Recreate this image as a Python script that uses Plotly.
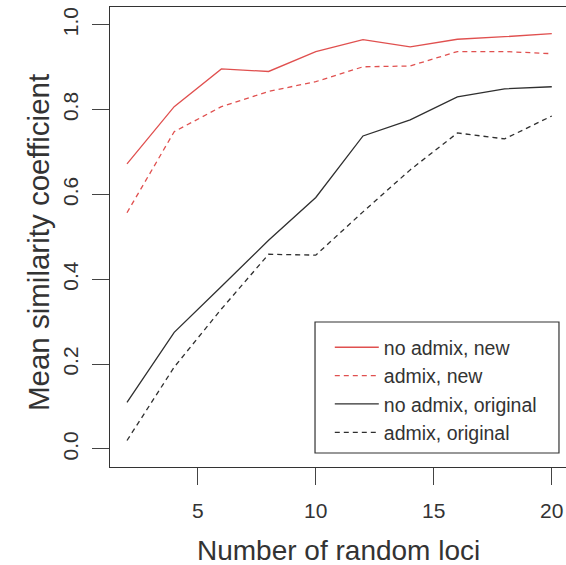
"""Mean similarity coefficient vs number of random loci."""

import plotly.graph_objects as go

# number of random loci
loci = [2, 4, 6, 8, 10, 12, 14, 16, 18, 20]

# mean similarity coefficient per series
no_admix_new = [0.672, 0.807, 0.896, 0.890, 0.937, 0.965, 0.948, 0.966, 0.972, 0.979]
admix_new = [0.557, 0.748, 0.807, 0.843, 0.866, 0.901, 0.903, 0.937, 0.937, 0.932]
no_admix_original = [0.110, 0.275, 0.383, 0.492, 0.593, 0.738, 0.776, 0.830, 0.849, 0.854]
admix_original = [0.020, 0.193, 0.330, 0.459, 0.457, 0.559, 0.658, 0.745, 0.731, 0.785]

series_names = [
    "no admix, new",
    "admix, new",
    "no admix, original",
    "admix, original",
]

x_ticks = [5, 10, 15, 20]
y_ticks = [0.0, 0.2, 0.4, 0.6, 0.8, 1.0]
y_tick_labels = ["0.0", "0.2", "0.4", "0.6", "0.8", "1.0"]

RED = "#e0504f"
BLACK = "#2f2f2f"
TEXT = "#333333"
FONT = "Liberation Sans, Arial, sans-serif"

styles = [
    (no_admix_new, RED, "solid"),
    (admix_new, RED, "5px,4px"),
    (no_admix_original, BLACK, "solid"),
    (admix_original, BLACK, "5px,4px"),
]

fig = go.Figure()

for name, (values, color, dash) in zip(series_names, styles):
    fig.add_trace(
        go.Scatter(
            x=loci,
            y=values,
            mode="lines",
            name=name,
            line=dict(color=color, width=1.3, dash=dash),
        )
    )

fig.update_layout(
    width=566,
    height=565,
    plot_bgcolor="white",
    paper_bgcolor="white",
    font=dict(family=FONT, color=TEXT),
    margin=dict(l=110, r=0, t=7, b=98, autoexpand=False),
    showlegend=True,
    legend=dict(
        x=0.482,
        y=0.302,
        xanchor="left",
        yanchor="top",
        bgcolor="rgba(0,0,0,0)",
        borderwidth=0,
        font=dict(size=19.5, color=TEXT),
        itemwidth=44,
        tracegroupgap=0,
    ),
)

# legend frame
fig.add_shape(
    type="rect",
    xref="paper",
    yref="paper",
    x0=0.4496,
    x1=0.9846,
    y0=0.0304,
    y1=0.3152,
    line=dict(color="#333333", width=1.2),
    fillcolor="rgba(0,0,0,0)",
    layer="above",
)

fig.update_xaxes(
    range=[1.28, 20.602],
    tickvals=x_ticks,
    ticktext=[str(t) for t in x_ticks],
    ticks="outside",
    ticklen=17,
    tickwidth=1.2,
    tickcolor="#444444",
    tickfont=dict(size=21, color=TEXT),
    ticklabelstandoff=8,
    ticklabeloverflow="allow",
    showline=True,
    linecolor="#333333",
    linewidth=1.3,
    mirror=True,
    showgrid=False,
    zeroline=False,
)

fig.update_yaxes(
    range=[-0.0425, 1.042],
    tickvals=y_ticks,
    ticktext=y_tick_labels,
    tickangle=-90,
    ticks="outside",
    ticklen=17,
    tickwidth=1.2,
    tickcolor="#444444",
    tickfont=dict(size=21, color=TEXT),
    ticklabelstandoff=5,
    ticklabeloverflow="allow",
    showline=True,
    linecolor="#333333",
    linewidth=1.3,
    showgrid=False,
    zeroline=False,
)

# axis titles
fig.add_annotation(
    text="Number of random loci",
    xref="paper",
    yref="paper",
    x=0.5,
    y=-0.1826,
    xanchor="center",
    yanchor="middle",
    showarrow=False,
    font=dict(size=28, color=TEXT),
)
fig.add_annotation(
    text="Mean similarity coefficient",
    xref="paper",
    yref="paper",
    x=-0.158,
    y=0.489,
    xanchor="center",
    yanchor="middle",
    textangle=-90,
    showarrow=False,
    font=dict(size=29.5, color=TEXT),
)

# drop the default body margin so the figure fills the window exactly
fig.write_html(
    "out.html",
    config={"displayModeBar": False},
    post_script="document.body.style.margin='0';document.documentElement.style.overflow='hidden';",
)
